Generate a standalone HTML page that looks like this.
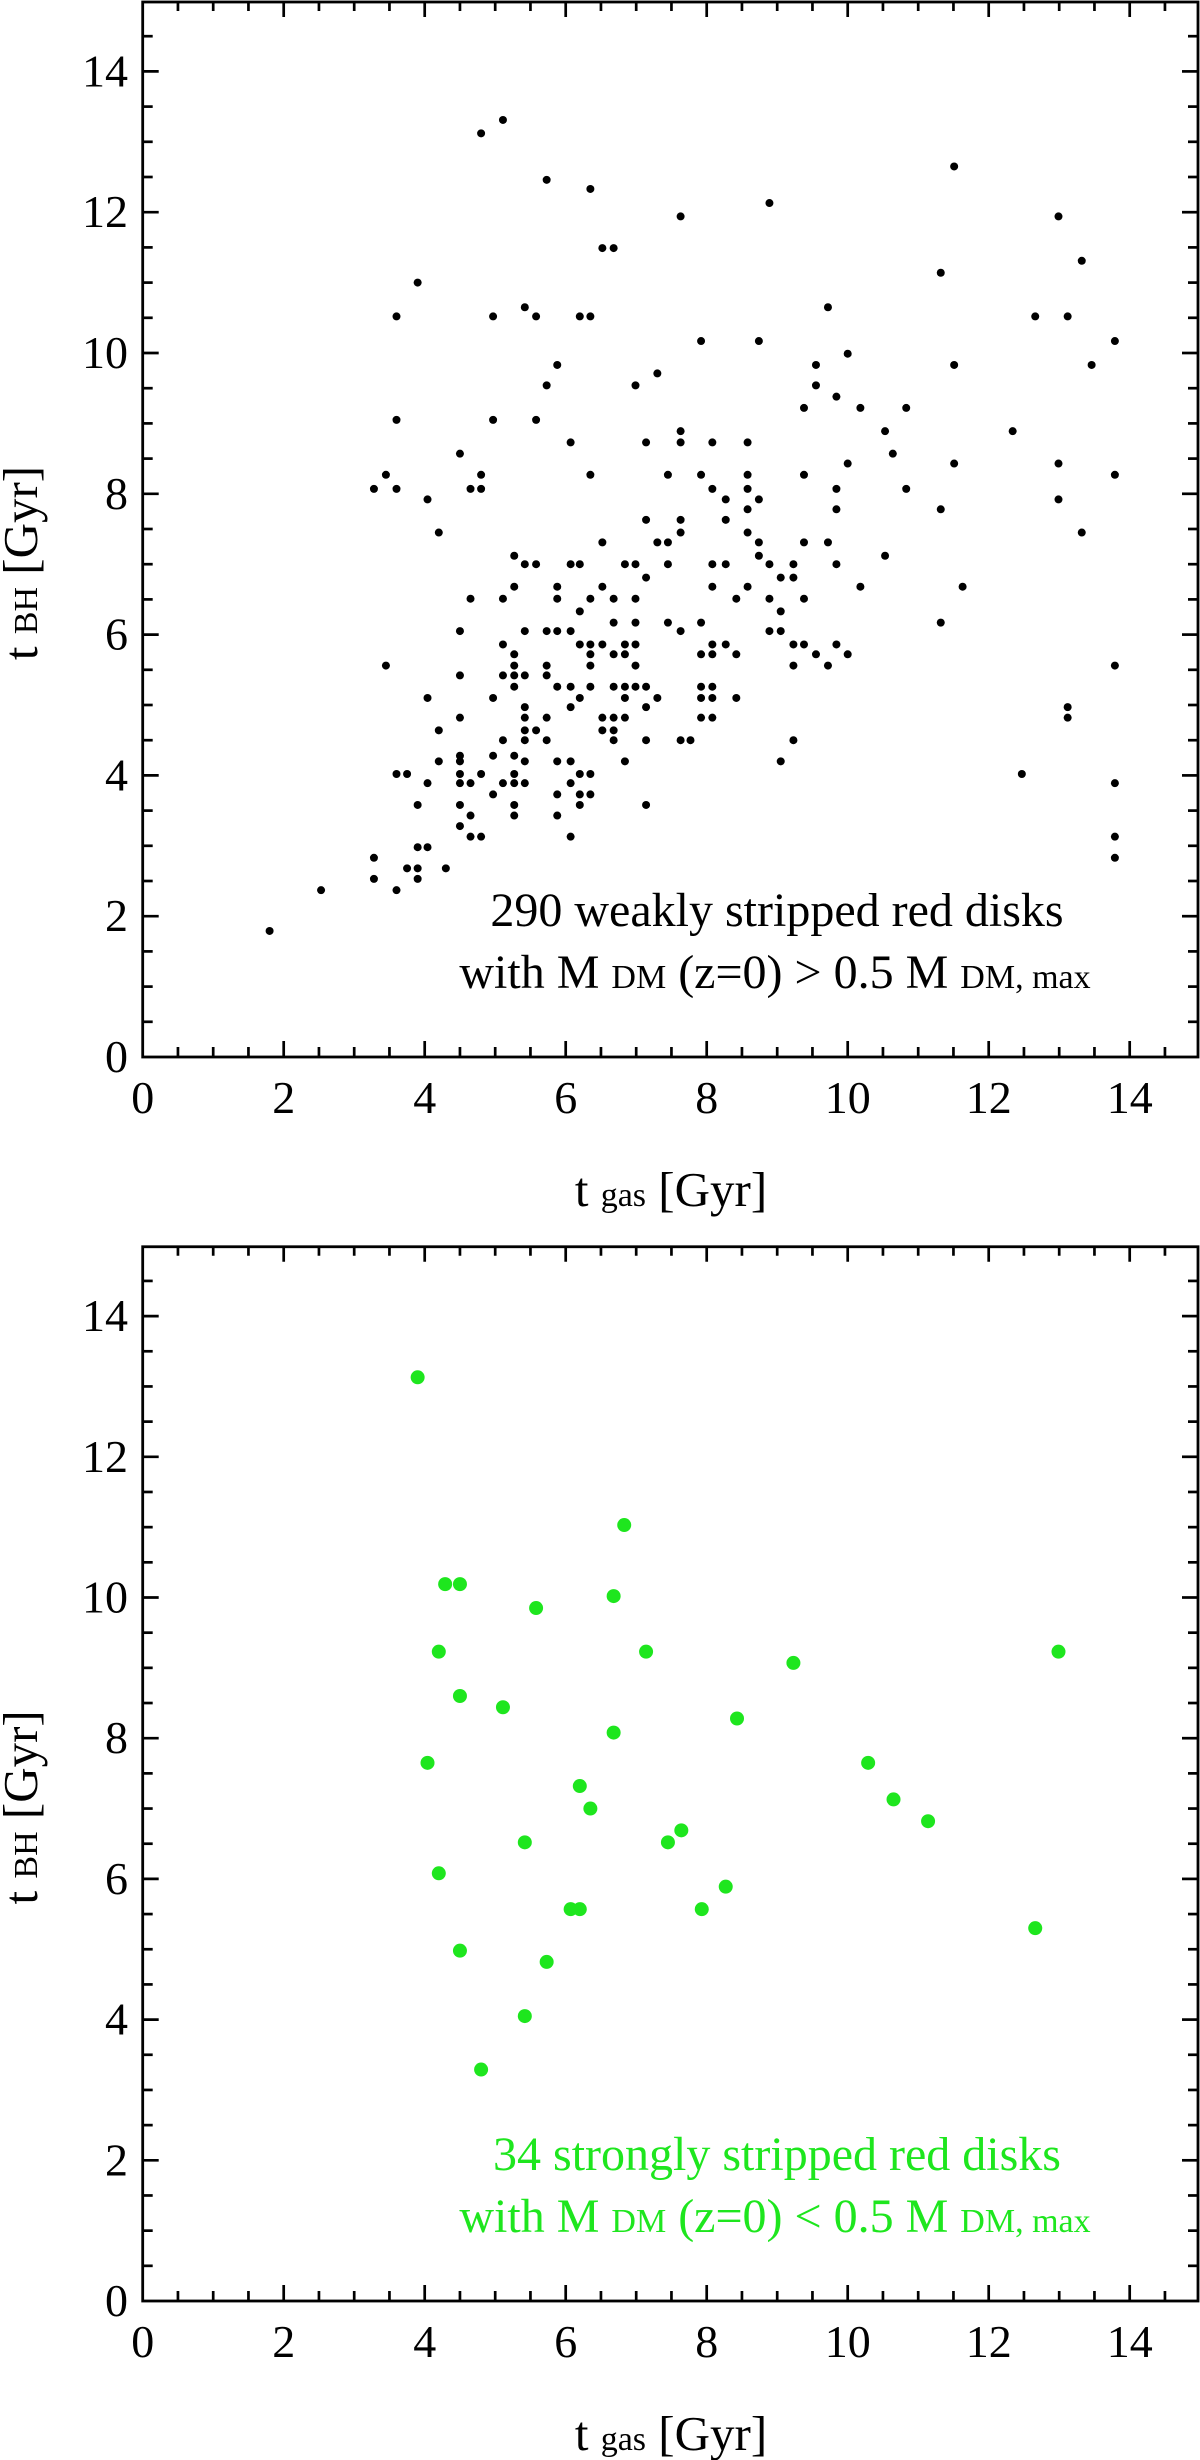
<!DOCTYPE html>
<html><head><meta charset="utf-8">
<style>
html,body{margin:0;padding:0;background:#fff;}
svg{display:block;font-family:"Liberation Serif",serif;}
</style></head>
<body>
<svg id="fig" width="1200" height="2460" viewBox="0 0 1200 2460" xmlns="http://www.w3.org/2000/svg">
<g id="top"></g>
<g id="bot"></g>
</svg>
<script>
// ---------- data ----------
const weakX = [1.80,2.53,3.28,3.28,3.28,3.45,3.45,3.60,3.60,3.60,3.60,3.60,3.75,3.75,3.9,3.9,3.9,3.9,3.9,4.04,4.04,4.04,4.04,4.2,4.2,4.2,4.3,4.5,4.5,4.5,4.5,4.5,4.5,4.5,4.5,4.5,4.5,4.65,4.65,4.65,4.65,4.65,4.8,4.8,4.8,4.8,4.8,4.97,4.97,4.97,4.97,4.97,5.11,5.11,5.11,5.11,5.11,5.11,5.27,5.27,5.27,5.27,5.27,5.27,5.27,5.27,5.27,5.27,5.27,5.42,5.42,5.42,5.42,5.42,5.42,5.42,5.42,5.42,5.42,5.58,5.58,5.58,5.58,5.73,5.73,5.73,5.73,5.73,5.73,5.73,5.88,5.88,5.88,5.88,5.88,5.88,5.88,5.88,6.07,6.07,6.07,6.07,6.07,6.07,6.07,6.07,6.2,6.2,6.2,6.2,6.2,6.2,6.2,6.2,6.35,6.35,6.35,6.35,6.35,6.35,6.35,6.35,6.35,6.35,6.52,6.52,6.52,6.52,6.52,6.52,6.68,6.68,6.68,6.68,6.68,6.68,6.68,6.68,6.84,6.84,6.84,6.84,6.84,6.84,6.84,6.99,6.99,6.99,6.99,6.99,6.99,6.99,7.14,7.14,7.14,7.14,7.14,7.14,7.14,7.3,7.3,7.3,7.45,7.45,7.45,7.45,7.63,7.63,7.63,7.63,7.63,7.63,7.63,7.77,7.92,7.92,7.92,7.92,7.92,7.92,7.92,8.08,8.08,8.08,8.08,8.08,8.08,8.08,8.08,8.08,8.27,8.27,8.27,8.27,8.42,8.42,8.42,8.58,8.58,8.58,8.58,8.58,8.58,8.74,8.74,8.74,8.74,8.89,8.89,8.89,8.89,9.05,9.05,9.05,9.05,9.23,9.23,9.23,9.23,9.23,9.38,9.38,9.38,9.38,9.38,9.55,9.55,9.55,9.72,9.72,9.72,9.84,9.84,9.84,9.84,9.84,10.0,10.0,10.0,10.18,10.18,10.53,10.53,10.64,10.83,10.83,11.32,11.32,11.32,11.51,11.51,11.51,11.63,12.34,12.47,12.66,12.99,12.99,12.99,13.12,13.12,13.12,13.32,13.32,13.46,13.79,13.79,13.79,13.79,13.79,13.79];
const weakY = [1.79,2.37,2.83,2.53,8.07,8.27,5.56,9.05,10.52,8.07,4.02,2.37,4.02,2.68,11.0,3.58,2.98,2.68,2.53,7.92,5.1,3.89,2.98,7.45,4.64,4.2,2.68,8.57,6.05,5.42,4.82,4.28,4.2,4.02,3.89,3.58,3.28,6.51,3.89,3.43,3.13,8.07,8.27,8.07,13.12,4.02,3.13,10.52,9.05,5.1,4.28,3.73,13.31,6.51,5.86,5.42,4.5,3.89,7.12,6.68,5.72,5.56,5.42,5.26,4.28,4.02,3.58,3.43,3.89,10.65,7.0,6.05,5.42,4.97,4.82,4.64,4.5,4.2,3.89,10.52,9.05,7.0,4.64,12.46,9.54,6.05,5.56,5.42,4.82,4.5,9.83,6.68,6.51,6.05,5.26,4.2,3.73,3.43,8.73,7.0,6.05,5.26,4.97,4.2,3.89,3.13,10.52,7.0,6.33,5.86,5.1,3.73,3.58,4.02,12.33,10.52,8.27,6.51,5.86,5.72,5.56,5.26,4.02,3.73,11.49,7.31,6.68,5.86,4.82,4.64,11.49,6.51,6.17,5.72,5.26,4.82,4.64,4.5,7.0,5.86,5.72,5.26,4.82,4.2,5.1,9.54,7.0,6.51,6.17,5.86,5.56,5.26,8.73,7.63,6.81,5.26,4.97,4.5,3.58,9.71,7.31,5.1,8.27,7.31,7.0,6.17,11.94,8.89,8.73,7.63,7.45,6.05,4.5,4.5,10.17,8.27,6.17,5.72,5.26,5.1,4.82,8.73,8.07,7.0,6.68,5.86,5.72,5.26,5.1,4.82,7.92,7.63,7.0,5.86,6.51,5.72,5.1,8.73,8.27,8.07,7.78,7.45,6.68,10.17,7.92,7.31,7.12,12.13,7.0,6.51,6.05,6.81,6.33,6.05,4.2,7.0,6.81,5.86,5.56,4.5,9.22,8.27,7.31,6.51,5.86,9.83,9.54,5.72,10.65,7.31,5.56,9.38,8.07,7.78,7.0,5.86,9.99,8.43,5.72,9.22,6.68,8.89,7.12,8.57,9.22,8.07,11.14,7.78,6.17,12.65,9.83,8.43,6.68,8.89,4.02,10.52,11.94,8.43,7.92,10.52,4.97,4.82,11.31,7.45,9.83,10.17,8.27,5.56,3.89,3.13,2.83];
const stripX = [3.9,4.04,4.2,4.2,4.29,4.5,4.5,4.5,4.8,5.11,5.42,5.42,5.58,5.73,6.07,6.2,6.2,6.35,6.68,6.68,6.83,7.14,7.45,7.64,7.93,8.27,8.43,9.23,10.29,10.65,11.14,12.66,12.99];
const stripY = [13.13,7.65,9.23,6.08,10.19,10.19,8.6,4.98,3.29,8.44,6.52,4.05,9.85,4.82,5.57,5.57,7.32,7.0,10.02,8.08,11.03,9.23,6.52,6.69,5.57,5.89,8.28,9.07,7.65,7.13,6.82,5.30,9.23];
const xTicks = [0,2,4,6,8,10,12,14];
const yTicks = [0,2,4,6,8,10,12,14];

const NS = "http://www.w3.org/2000/svg";
const L = 142.7, R = 1198, XU = 70.5;
function mk(tag, attrs, parent){
  const e = document.createElementNS(NS, tag);
  for (const k in attrs) e.setAttribute(k, attrs[k]);
  parent.appendChild(e);
  return e;
}
function panel(g, y0px, YU, xs, ys, color, r, lines){
  const sx = v => L + v*XU;
  const sy = v => y0px - v*YU;
  const top = sy(15), bottom = y0px;
  const tg = mk('g', {stroke:'#000','stroke-width':2.7}, g);
  
  
  for (let i = 0; i <= 30; i++){
    const v = i*0.5, maj = (i%4===0), len = maj ? 16 : 10;
    const x = sx(v);
    if (x < R-1 && x > L+1){
      mk('line',{x1:x,y1:bottom,x2:x,y2:bottom-len},tg);
      mk('line',{x1:x,y1:top,x2:x,y2:top+len},tg);
    }
    const y = sy(v);
    if (y > top+1 && y < bottom-1){
      mk('line',{x1:L,y1:y,x2:L+len,y2:y},tg);
      mk('line',{x1:R,y1:y,x2:R-len,y2:y},tg);
    }
  }
  const frame = mk('rect',{x:L,y:top+1,width:R-L,height:bottom-top-1,fill:'none',stroke:'#000','stroke-width':2.8},g);
  
  
  xTicks.forEach(v => {
    const t = mk('text',{x:sx(v),y:y0px+56,'text-anchor':'middle','font-size':46,fill:'#000'},g);
    
    
    t.textContent = v;
  });
  yTicks.forEach(v => {
    const t = mk('text',{x:128,y:sy(v)+15,'text-anchor':'end','font-size':46,fill:'#000'},g);
    
    
    t.textContent = v;
  });
  const xt = mk('text',{x:671,y:y0px+149,'text-anchor':'middle','font-size':49,fill:'#000'},g);
  
  
  xt.innerHTML = 't <tspan font-size="34">gas</tspan> [Gyr]';
  const yt = mk('text',{x:0,y:0,'text-anchor':'middle','font-size':49,fill:'#000',transform:`translate(37,${(top+bottom)/2+34}) rotate(-90)`},g);
  
  
  yt.innerHTML = 't <tspan font-size="34">BH</tspan> [Gyr]';
  const pg = mk('g',{fill:color},g);
  
  
  for (let i = 0; i < xs.length; i++){
    const c = mk('circle',{cx:sx(xs[i]),cy:sy(ys[i]),r:r},pg);
    
    
  }
  const a1 = mk('text',{x:777,y:y0px-131,'text-anchor':'middle','font-size':48,fill:color},g);
  
  
  a1.textContent = lines[0];
  const a2 = mk('text',{x:775,y:y0px-69,'text-anchor':'middle','font-size':48,fill:color},g);
  
  
  a2.innerHTML = lines[1];
}
panel(document.getElementById('top'), 1057, 70.4, weakX, weakY, '#000', 4,
  ['290 weakly stripped red disks','with M <tspan font-size="34">DM</tspan> (z=0) &gt; 0.5 M <tspan font-size="34">DM, max</tspan>']);
panel(document.getElementById('bot'), 2301, 70.35, stripX, stripY, '#1ee61e', 7,
  ['34 strongly stripped red disks','with M <tspan font-size="34">DM</tspan> (z=0) &lt; 0.5 M <tspan font-size="34">DM, max</tspan>']);
</script>
</body></html>
